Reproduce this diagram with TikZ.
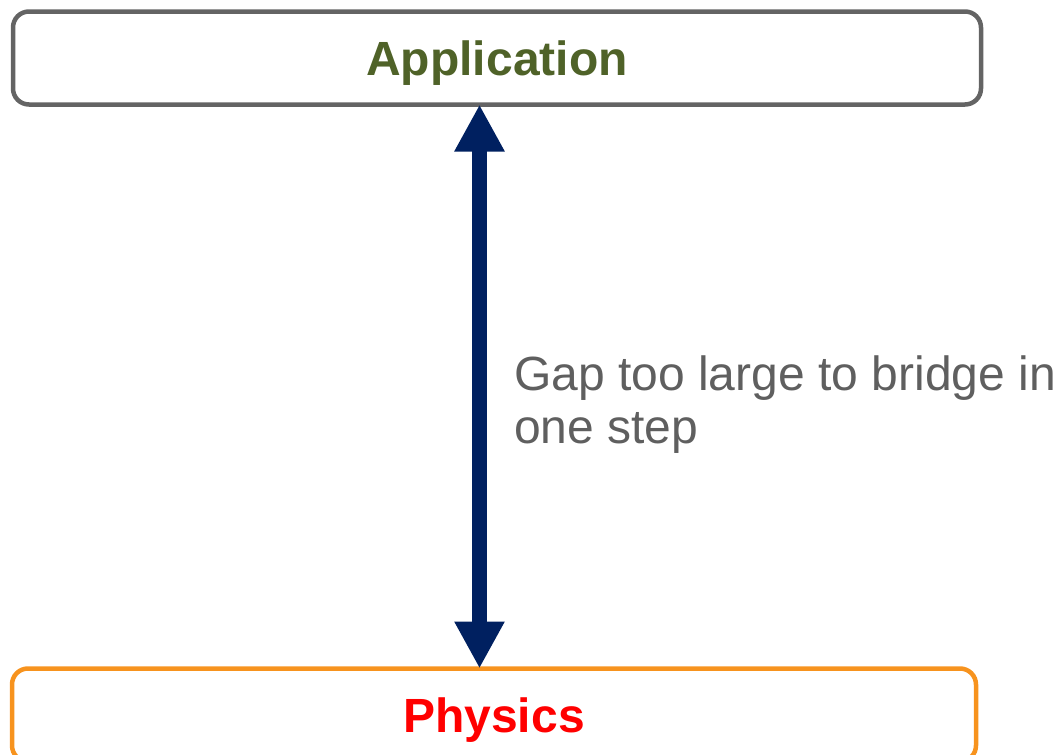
\documentclass[tikz,border=0pt]{standalone}
\usepackage{fontspec}
\setmainfont{Liberation Sans}
\usetikzlibrary{arrows.meta,calc}
\definecolor{boxgray}{HTML}{646464}
\definecolor{appgreen}{HTML}{4F6228}
\definecolor{physorange}{HTML}{F7931E}
\definecolor{navy}{HTML}{002060}
\definecolor{textgray}{HTML}{5F5F5F}
\tikzset{
  layerbox/.style={draw, line width=4.5pt, rounded corners=16pt, outer sep=0pt,
    inner sep=0pt, text depth=0pt, text height=34pt,
    font=\fontsize{48}{56}\selectfont\bfseries},
  bigarrow/.style={draw=navy, line width=15pt,
    arrows={Triangle[length=47pt,width=47pt,fill=navy]-Triangle[length=47pt,width=47pt,fill=navy]}},
  gaptext/.style={text=textgray, align=left, inner sep=0pt,
    font=\fontsize{48}{53}\selectfont}
}
\begin{document}
\begin{tikzpicture}[x=1pt,y=-1pt]
\useasboundingbox (0,0) rectangle (1058,755);
\node[layerbox, draw=boxgray, text=appgreen, minimum width=968pt, minimum height=93pt] (app) at (497,58) {Application};
\node[layerbox, draw=physorange, text=red, minimum width=964pt, minimum height=93pt] (phys) at (494,715) {Physics};
\coordinate (ax) at (479.5,400);
\draw[bigarrow] (app.south -| ax) -- (phys.north -| ax);
\node[gaptext, anchor=base west] (gap) at (514,443) {Gap too large to bridge in\\one step};
\end{tikzpicture}
\end{document}
